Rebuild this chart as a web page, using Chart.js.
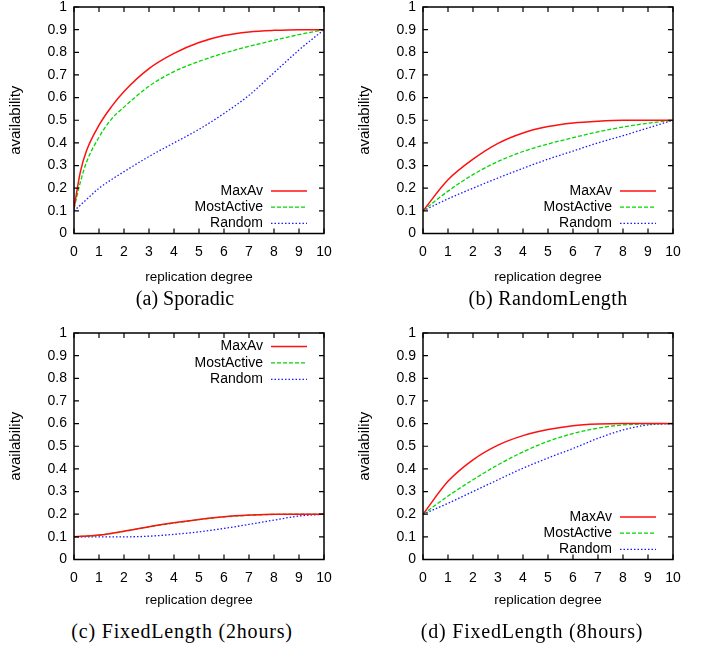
<!DOCTYPE html>
<html>
<head>
<meta charset="utf-8">
<script src="https://cdn.jsdelivr.net/npm/chart.js@4"></script>
<style>
  body { margin: 0; background: #fff; width: 708px; height: 649px; position: relative; overflow: hidden; }
  canvas { position: absolute; }
  .cap { position: absolute; font: 20px "Liberation Serif", "Times New Roman", serif; color: #000; white-space: nowrap; transform: translateX(-50%); }
</style>
</head>
<body>
<canvas id="sporadic" width="354" height="290" style="left:0;top:0"></canvas>
<canvas id="randomLength" width="354" height="290" style="left:349px;top:0"></canvas>
<canvas id="fixed2" width="354" height="290" style="left:0;top:326px"></canvas>
<canvas id="fixed8" width="354" height="290" style="left:349px;top:326px"></canvas>
<div class="cap" style="left:185px;top:287px">(a) Sporadic</div>
<div class="cap" style="left:548px;top:287px;letter-spacing:0.4px">(b) RandomLength</div>
<div class="cap" style="left:182px;top:620px;letter-spacing:0.8px">(c) FixedLength (2hours)</div>
<div class="cap" style="left:532px;top:620px;letter-spacing:0.8px">(d) FixedLength (8hours)</div>
<script>
// series names and tick labels
const seriesNames = ["MaxAv", "MostActive", "Random"];
const xTickLabels = ["0", "1", "2", "3", "4", "5", "6", "7", "8", "9", "10"];
const yTickLabels = ["0", "0.1", "0.2", "0.3", "0.4", "0.5", "0.6", "0.7", "0.8", "0.9", "1"];

// (a) Sporadic
const sporadicDegree     = [0, 0.25, 0.5, 1, 1.5, 2, 3, 4, 5, 6, 7, 8, 9, 10];
const sporadicMaxAv      = [0.11, 0.27, 0.365, 0.478, 0.56, 0.627, 0.728, 0.795, 0.843, 0.874, 0.89, 0.897, 0.9, 0.9];
const sporadicMostActive = [0.11, 0.225, 0.315, 0.425, 0.505, 0.558, 0.65, 0.715, 0.76, 0.796, 0.826, 0.853, 0.878, 0.9];
const sporadicRandom     = [0.10, 0.125, 0.15, 0.20, 0.238, 0.273, 0.34, 0.40, 0.46, 0.53, 0.61, 0.71, 0.81, 0.9];

// (b) RandomLength
const degree = [0, 1, 2, 3, 4, 5, 6, 7, 8, 9, 10];
const randLenMaxAv      = [0.1, 0.237, 0.328, 0.398, 0.444, 0.472, 0.488, 0.496, 0.5, 0.5, 0.5];
const randLenMostActive = [0.1, 0.187, 0.26, 0.318, 0.362, 0.395, 0.423, 0.449, 0.47, 0.487, 0.5];
const randLenRandom     = [0.1, 0.153, 0.2, 0.245, 0.288, 0.328, 0.364, 0.4, 0.432, 0.466, 0.5];

// (c) FixedLength (2hours)
const fixed2MaxAv      = [0.1, 0.108, 0.125, 0.145, 0.162, 0.177, 0.189, 0.196, 0.2, 0.2, 0.2];
const fixed2MostActive = [0.1, 0.107, 0.124, 0.144, 0.161, 0.176, 0.188, 0.195, 0.199, 0.2, 0.2];
const fixed2Random     = [0.1, 0.1, 0.1, 0.103, 0.111, 0.122, 0.137, 0.155, 0.174, 0.192, 0.2];

// (d) FixedLength (8hours)
const fixed8MaxAv      = [0.2, 0.345, 0.44, 0.505, 0.547, 0.574, 0.591, 0.598, 0.6, 0.6, 0.6];
const fixed8MostActive = [0.2, 0.28, 0.352, 0.418, 0.475, 0.522, 0.556, 0.58, 0.594, 0.599, 0.6];
const fixed8Random     = [0.2, 0.248, 0.3, 0.352, 0.403, 0.448, 0.49, 0.535, 0.572, 0.594, 0.6];

const styles = [
  { color: "#ff1010", dash: [], width: 1.5 },
  { color: "#00d800", dash: [4, 2], width: 1.3 },
  { color: "#1a1aff", dash: [1.5, 2], width: 1.3 }
];

Chart.defaults.font.family = '"Liberation Sans", Arial, sans-serif';
Chart.defaults.font.size = 14;
Chart.defaults.color = "#000";

// box round the plot with small inward ticks on all four sides
const framePlugin = {
  id: "frame",
  afterDatasetsDraw(chart) {
    const { ctx, chartArea: a, scales: { x, y } } = chart;
    ctx.save();
    ctx.strokeStyle = "#000";
    ctx.lineWidth = 1.5;
    ctx.strokeRect(a.left, a.top, a.width, a.height);
    ctx.lineWidth = 1.2;
    ctx.beginPath();
    x.ticks.forEach(t => {
      const px = x.getPixelForValue(t.value);
      ctx.moveTo(px, a.bottom); ctx.lineTo(px, a.bottom - 5);
      ctx.moveTo(px, a.top); ctx.lineTo(px, a.top + 5);
    });
    y.ticks.forEach(t => {
      const py = y.getPixelForValue(t.value);
      ctx.moveTo(a.left, py); ctx.lineTo(a.left + 5, py);
      ctx.moveTo(a.right, py); ctx.lineTo(a.right - 5, py);
    });
    ctx.stroke();
    ctx.restore();
  }
};

// gnuplot style key: label right aligned, sample line after it
const keyPlugin = {
  id: "key",
  afterDatasetsDraw(chart, args, opts) {
    const { ctx, chartArea: a } = chart;
    ctx.save();
    ctx.font = '14px "Liberation Sans", Arial, sans-serif';
    ctx.textAlign = "right";
    ctx.textBaseline = "middle";
    chart.data.datasets.forEach((ds, i) => {
      const y = opts.atTop ? a.top + 13.5 + i * 16.4 : a.bottom - 42.5 + i * 16.2;
      ctx.fillStyle = "#000";
      ctx.fillText(ds.label, a.right - 61, y);
      ctx.strokeStyle = ds.borderColor;
      ctx.lineWidth = ds.borderWidth;
      ctx.setLineDash(ds.borderDash);
      ctx.beginPath();
      ctx.moveTo(a.right - 53, y);
      ctx.lineTo(a.right - 17, y);
      ctx.stroke();
    });
    ctx.restore();
  }
};

function makeChart(id, xs, series, atTop, titleGap) {
  new Chart(document.getElementById(id), {
    type: "line",
    data: {
      datasets: series.map((vals, i) => ({
        label: seriesNames[i],
        data: xs.map((x, j) => ({ x: x, y: vals[j] })),
        borderColor: styles[i].color,
        borderDash: styles[i].dash,
        borderWidth: styles[i].width,
        pointRadius: 0,
        fill: false,
        cubicInterpolationMode: "monotone"
      }))
    },
    options: {
      responsive: false,
      animation: false,
      devicePixelRatio: 1,
      layout: { padding: { top: 7, right: 30, left: 0, bottom: 0 } },
      plugins: { legend: { display: false }, tooltip: { enabled: false }, key: { atTop: atTop } },
      scales: {
        x: {
          type: "linear", min: 0, max: 10,
          grid: { display: false, drawTicks: false },
          border: { display: false },
          ticks: { stepSize: 1, padding: 10, maxRotation: 0, callback: (v, i) => xTickLabels[i] },
          title: { display: true, text: "replication degree", font: { size: 13.5 }, padding: { top: 0, bottom: titleGap } },
          afterFit: s => { s.height = 56.5; s.paddingLeft = 0; s.paddingRight = 0; }
        },
        y: {
          min: 0, max: 1,
          grid: { display: false, drawTicks: false },
          border: { display: false },
          ticks: { stepSize: 0.1, padding: 7, callback: (v, i) => yTickLabels[i] },
          title: { display: true, text: "availability", font: { size: 15 }, padding: { top: 7, bottom: 0 } },
          afterFit: s => { s.width = 74; s.paddingTop = 0; s.paddingBottom = 0; }
        }
      }
    },
    plugins: [framePlugin, keyPlugin]
  });
}

makeChart("sporadic", sporadicDegree, [sporadicMaxAv, sporadicMostActive, sporadicRandom], false, 5);
makeChart("randomLength", degree, [randLenMaxAv, randLenMostActive, randLenRandom], false, 5);
makeChart("fixed2", degree, [fixed2MaxAv, fixed2MostActive, fixed2Random], true, 8);
makeChart("fixed8", degree, [fixed8MaxAv, fixed8MostActive, fixed8Random], false, 8);
</script>
</body>
</html>
